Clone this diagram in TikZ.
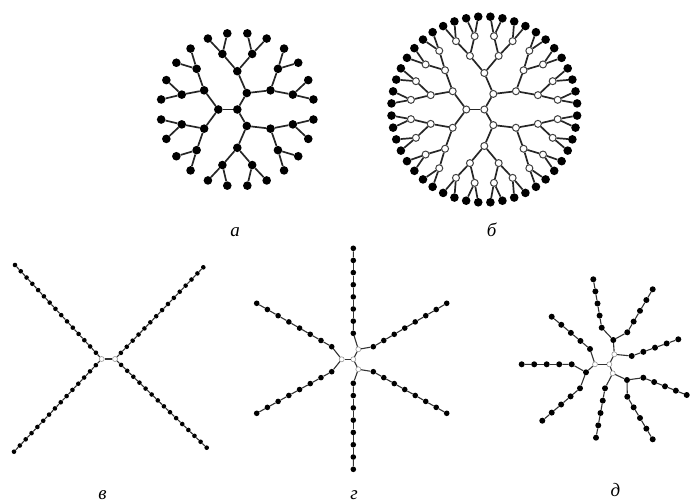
\documentclass[tikz,border=0pt]{standalone}
\usepackage{fontspec}
\setmainfont{Liberation Serif}
\usepackage{tikz}
\usetikzlibrary{calc}

\begin{document}
\begin{tikzpicture}[x=1pt, y=-1pt,
  bead/.style={circle, fill=black, inner sep=0pt, minimum size=8.6pt},
  hollow/.style={circle, draw=black!75, line width=1pt, fill=white, inner sep=0pt, minimum size=7pt},
  bond/.style={draw=black!85, line width=1.7pt},
  dot/.style={circle, fill=black, inner sep=0pt, minimum size=#1},
  dot/.default=5pt,
  core/.style={circle, draw=black!40, line width=0.6pt, fill=white, inner sep=0pt, minimum size=5pt},
  arm/.style={draw=black!80, line width=1.1pt},
  figlabel/.style={font=\fontsize{19}{22}\selectfont\itshape, anchor=base},
]
\useasboundingbox (0,0) rectangle (690,502);

% (a) dendrimer, black beads
\coordinate (a-c) at (237.3,109.5);
\node[bead] (a-0-0) at (a-c) {};
\foreach \g/\r in {1/19,2/38.3,3/57.5,4/76.8} {
  \pgfmathtruncatemacro\n{3*2^(\g-1)}
  \pgfmathtruncatemacro\last{\n-1}
  \pgfmathtruncatemacro\pg{\g-1}
  \foreach \i in {0,...,\last} {
    \pgfmathsetmacro\ang{360/\n*(\i+0.5)}
    \pgfmathtruncatemacro\p{\g==1 ? 0 : floor(\i/2)}
    \node[bead] (a-\g-\i) at ($(a-c)+(\ang:\r)$) {};
    \draw[bond] (a-\pg-\p) -- (a-\g-\i);
  }
}
\node[figlabel] (lbl-a) at (235,237) {а};

% (б) dendrimer, open inner beads, black end groups
\coordinate (b-c) at (484.3,109.5);
\node[hollow] (b-0-0) at (b-c) {};
\foreach \g/\r in {1/18,2/36.5,3/55.5,4/74,5/93} {
  \pgfmathtruncatemacro\n{3*2^(\g-1)}
  \pgfmathtruncatemacro\last{\n-1}
  \pgfmathtruncatemacro\pg{\g-1}
  \foreach \i in {0,...,\last} {
    \pgfmathsetmacro\ang{360/\n*(\i+0.5)}
    \pgfmathtruncatemacro\p{\g==1 ? 0 : floor(\i/2)}
    \ifnum\g<5
      \node[hollow] (b-\g-\i) at ($(b-c)+(\ang:\r)$) {};
    \else
      \node[bead] (b-\g-\i) at ($(b-c)+(\ang:\r)$) {};
    \fi
    \draw[bond] (b-\pg-\p) -- (b-\g-\i);
  }
}
\node[figlabel] (lbl-b) at (491.7,236.5) {б};

% (в) four-arm star
\node[core] (v-l) at (101.7,359) {};
\node[core] (v-r) at (115,359) {};
\draw[arm] (v-l) -- (v-r);
\foreach \nm/\from/\tx/\ty in {ul/v-l/15/265, ll/v-l/14/451.7, ur/v-r/203.3/267.3, lr/v-r/206.7/447.7} {
  \foreach \j in {1,...,15} {
    \node[dot=4.6pt] (v-\nm-\j) at ($(\from)!\j/15!(\tx,\ty)$) {};
  }
  \draw[arm] (\from) -- (v-\nm-1);
  \foreach \j [count=\k from 2] in {1,...,14}
    \draw[arm] (v-\nm-\j) -- (v-\nm-\k);
}
\node[figlabel] (lbl-v) at (102.5,499) {в};

% (г) six-arm star
\node[core] (g-c) at (353.3,359.3) {};
\node[core] (g-l) at (341.7,359.3) {};
\node[core] (g-u) at (358.3,349.3) {};
\node[core] (g-d) at (358.3,369.3) {};
\draw[arm] (g-c) -- (g-l);
\draw[arm] (g-c) -- (g-u);
\draw[arm] (g-c) -- (g-d);
\foreach \nm/\from/\fx/\fy/\tx/\ty in {ul/g-l/331.7/346.7/256.7/303.3, ll/g-l/331.7/371.7/256.7/413.3,
    up/g-u/353.3/333.3/353.3/248.3, ur/g-u/373.3/346.7/446.7/303.3,
    dn/g-d/353.3/383.3/353.3/469.3, lr/g-d/373.3/371.7/446.7/413.3} {
  \foreach \j in {0,...,7} {
    \node[dot=5.6pt] (g-\nm-\j) at ($(\fx,\fy)!\j/7!(\tx,\ty)$) {};
  }
  \draw[arm] (\from) -- (g-\nm-0);
  \foreach \j [count=\k from 1] in {0,...,6}
    \draw[arm] (g-\nm-\j) -- (g-\nm-\k);
}
\node[figlabel] (lbl-g) at (354,499) {г};

% (д) nine-arm star with branched core
\node[core] (d-c) at (609.3,364.3) {};
\node[core] (d-l) at (595,364.3) {};
\node[core] (d-u) at (614.3,354.3) {};
\node[core] (d-d) at (612.7,373.3) {};
\node[dot=6pt] (d-j1) at (613.3,340) {};
\node[dot=6pt] (d-j2) at (586,372.3) {};
\node[dot=6pt] (d-j3) at (627,380) {};
\draw[arm] (d-c) -- (d-l);
\draw[arm] (d-c) -- (d-u);
\draw[arm] (d-c) -- (d-d);
\draw[arm] (d-u) -- (d-j1);
\draw[arm] (d-l) -- (d-j2);
\draw[arm] (d-d) -- (d-j3);
\foreach \nm/\from/\fx/\fy/\tx/\ty in {up/d-j1/601.7/327.7/593.3/279.3, ur/d-j1/627.3/332.3/652.7/289.3,
    rt/d-u/631.7/356/678.3/339.3, ul/d-l/590/349/551.7/316.7,
    lf/d-j2/571.7/364.3/521.7/364.3, ll/d-j2/580/388.3/542.3/420.7,
    lm/d-d/605/388.3/596/437.7, dn/d-j3/627.3/396.7/652.7/439.3,
    lr/d-j3/643.3/377.7/686.7/395} {
  \foreach \j in {0,...,4} {
    \node[dot=6pt] (d-\nm-\j) at ($(\fx,\fy)!\j/4!(\tx,\ty)$) {};
  }
  \draw[arm] (\from) -- (d-\nm-0);
  \foreach \j [count=\k from 1] in {0,...,3}
    \draw[arm] (d-\nm-\j) -- (d-\nm-\k);
}
\node[figlabel] (lbl-d) at (615.5,496) {д};

\end{tikzpicture}
\end{document}
